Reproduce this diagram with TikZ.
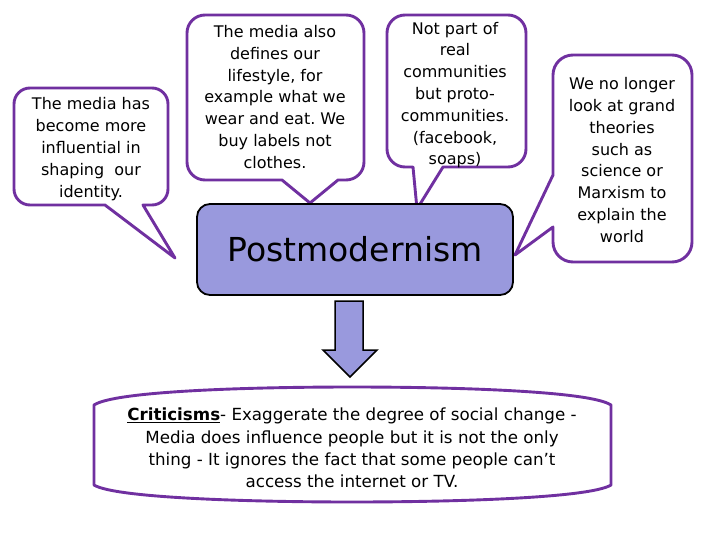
\documentclass[tikz,border=0pt]{standalone}
\usepackage{fontspec}
\setmainfont{DejaVu Sans}
\frenchspacing
\definecolor{callpurple}{RGB}{112,48,160}
\definecolor{lav}{RGB}{153,153,221}
\tikzset{
  callout/.style={draw=callpurple, line width=2.9pt, fill=white, line join=round},
  calltext/.style={align=center, font=\fontsize{16}{21.8}\selectfont, inner sep=0pt},
  mainbox/.style={draw=black, line width=1.8pt, fill=lav, rounded corners=13pt},
}
\begin{document}
\begin{tikzpicture}[x=1pt,y=-1pt]
\useasboundingbox (0,0) rectangle (728,546);
% callout 1 (left)
\draw[callout] (91,88) [rounded corners=16] -- (168,88) -- (168,205) [sharp corners] -- (143,205) -- (175,258) -- (105,205) [rounded corners=16] -- (14,205) -- (14,88) -- cycle;
\node[calltext] (t1) at (91,149) {The media has\\become more\\influential in\\shaping~ our\\identity.};
% callout 2
\draw[callout] (276,15) [rounded corners=18] -- (364,15) -- (364,180) [sharp corners] -- (338,180) -- (310,203) -- (282,180) [rounded corners=18] -- (187,180) -- (187,15) -- cycle;
\node[calltext] (t2) at (275,97) {The media also\\defines our\\lifestyle, for\\example what we\\wear and eat. We\\buy labels not\\clothes.};
% callout 3
\draw[callout] (456,15) [rounded corners=18] -- (526,15) -- (526,167) [sharp corners] -- (443,167) -- (417,209) -- (413,167) [rounded corners=18] -- (387,167) -- (387,15) -- cycle;
\node[calltext] (t3) at (455,95) {Not part of\\real\\communities\\but proto-\\communities.\\(facebook,\\soaps)};
% callout 4 (right)
\draw[callout] (622,55) [rounded corners=20] -- (692,55) -- (692,262) -- (553,262) [sharp corners] -- (553,227) -- (515,255) -- (553,175) [rounded corners=20] -- (553,55) -- cycle;
\node[calltext] (t4) at (622,160) {We no longer\\look at grand\\theories\\such as\\science or\\Marxism to\\explain the\\world};
% main box
\node[mainbox, minimum width=316pt, minimum height=91pt, font=\fontsize{33}{40}\selectfont] (pm) at (355,249.5) {Postmodernism};
% block arrow
\draw[draw=black, line width=1.5pt, fill=lav, line join=miter] (335,301) -- (363,301) -- (363,350) -- (377,350) -- (350,377) -- (323,350) -- (335,350) -- cycle;
% bottom box
\draw[callout] (94,405) .. controls (115,391) and (250,387) .. (352,387) .. controls (455,387) and (590,391) .. (611,405) -- (611,485) .. controls (590,498) and (455,502) .. (352,502) .. controls (250,502) and (115,498) .. (94,485) -- cycle;
\node[calltext, font=\fontsize{16.7}{22.3}\selectfont] (crit) at (352,448) {\underline{\textbf{Criticisms}}- Exaggerate the degree of social change -\\Media does influence people but it is not the only\\thing - It ignores the fact that some people can’t\\access the internet or TV.};
\end{tikzpicture}
\end{document}
